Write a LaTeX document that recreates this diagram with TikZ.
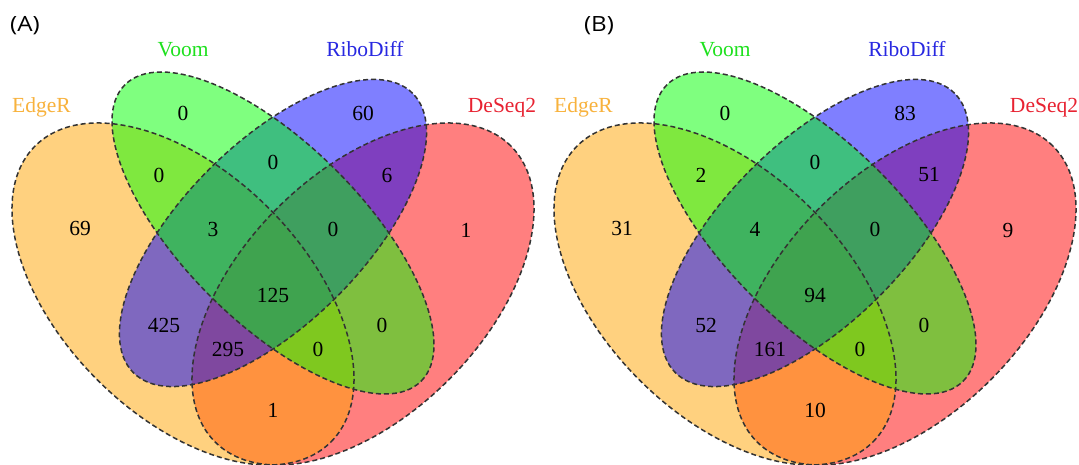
\documentclass[tikz,border=0pt]{standalone}
\usepackage{fontspec}
\setmainfont{Liberation Serif}
\newfontfamily\panelfont[FakeStretch=1.15]{Open Sans}
\definecolor{vorange}{RGB}{255,165,0}
\definecolor{vgreen}{RGB}{0,255,0}
\definecolor{vblue}{RGB}{0,0,255}
\definecolor{vred}{RGB}{255,0,0}
\definecolor{catorange}{RGB}{248,178,60}
\definecolor{catgreen}{RGB}{30,225,30}
\definecolor{catblue}{RGB}{40,40,225}
\definecolor{catred}{RGB}{232,35,50}
\newcommand\vennsets[1]{%
  \foreach \col/\cx/\cy/\ang/\ra/\rb in {vred/363/171/45/209.2/121.3, vorange/183/171/-45/209.2/121.3, vblue/273/232/45/197.5/90.2, vgreen/273/232/-45/209.5/89}{
    \path[#1, rotate around={\ang:(\cx,\cy)}] (\cx,\cy) ellipse [x radius=\ra, y radius=\rb];
  }}
\begin{document}
\begin{tikzpicture}[x=1pt,y=1pt,
  setfill/.style={fill=\col, fill opacity=0.5},
  outline/.style={draw=black!80, line width=1.5pt, dash pattern=on 5pt off 3pt},
  num/.style={inner sep=0pt, font=\fontsize{21.5}{25}\selectfont},
  cat/.style={inner sep=0pt, anchor=base, font=\fontsize{21.5}{25}\selectfont},
  panel/.style={inner sep=0pt, font=\panelfont\fontsize{21}{25}\selectfont}]
\useasboundingbox (0,0) rectangle (1079,465);
\fill[white] (0,0) rectangle (1079,465);
\begin{scope}
  \clip (0,0) rectangle (1079,465);
  \foreach \dx in {0,542}{
    \begin{scope}[xshift=\dx pt]
      \vennsets{setfill}
      \vennsets{outline}
    \end{scope}
  }
\end{scope}
% panel A
\node[panel] (pa) at (25,439) {(A)};
\node[cat, text=catgreen] (va) at (183,408) {Voom};
\node[cat, text=catblue] (ra) at (365,408) {RiboDiff};
\node[cat, text=catorange] (ea) at (41.5,352.5) {EdgeR};
\node[cat, text=catred] (da) at (502,352.5) {DeSeq2};
\begin{scope}
\node[num] (a1) at (80,237) {69};
\node[num] (a2) at (183,352) {0};
\node[num] (a3) at (363,352) {60};
\node[num] (a4) at (466,235) {1};
\node[num] (a5) at (159,290) {0};
\node[num] (a6) at (273,303) {0};
\node[num] (a7) at (387,290) {6};
\node[num] (a8) at (213,236) {3};
\node[num] (a9) at (333,236) {0};
\node[num] (a10) at (273,170) {125};
\node[num] (a11) at (164,140) {425};
\node[num] (a12) at (382,140) {0};
\node[num] (a13) at (228,116) {295};
\node[num] (a14) at (318,116) {0};
\node[num] (a15) at (273,55) {1};
\end{scope}
% panel B
\node[panel] (pb) at (599,439) {(B)};
\begin{scope}[xshift=542pt]
\node[cat, text=catgreen] (vb) at (183,408) {Voom};
\node[cat, text=catblue] (rb) at (365,408) {RiboDiff};
\node[cat, text=catorange] (eb) at (41.5,352.5) {EdgeR};
\node[cat, text=catred] (db) at (502,352.5) {DeSeq2};
\node[num] (b1) at (80,237) {31};
\node[num] (b2) at (183,352) {0};
\node[num] (b3) at (363,352) {83};
\node[num] (b4) at (466,235) {9};
\node[num] (b5) at (159,290) {2};
\node[num] (b6) at (273,303) {0};
\node[num] (b7) at (387,290) {51};
\node[num] (b8) at (213,236) {4};
\node[num] (b9) at (333,236) {0};
\node[num] (b10) at (273,170) {94};
\node[num] (b11) at (164,140) {52};
\node[num] (b12) at (382,140) {0};
\node[num] (b13) at (228,116) {161};
\node[num] (b14) at (318,116) {0};
\node[num] (b15) at (273,55) {10};
\end{scope}
\end{tikzpicture}
\end{document}
